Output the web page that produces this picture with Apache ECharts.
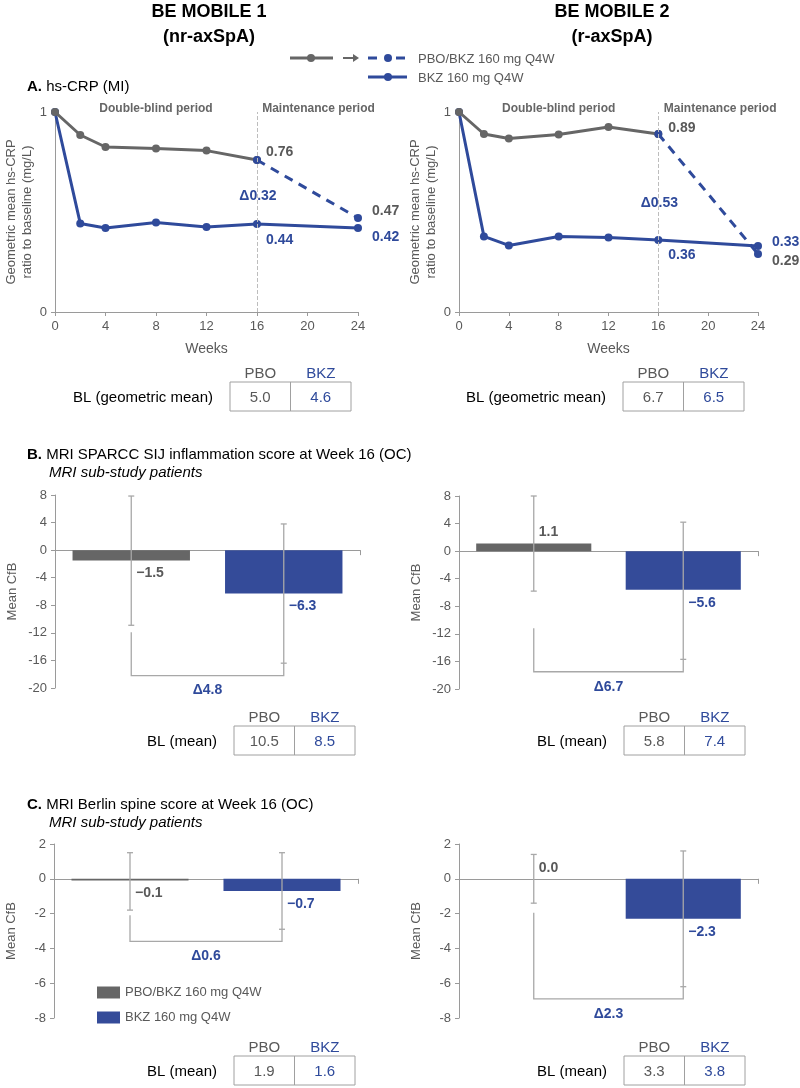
<!DOCTYPE html>
<html>
<head>
<meta charset="utf-8">
<script src="https://cdn.jsdelivr.net/npm/echarts@6/dist/echarts.min.js"></script>
<style>
  html, body { margin: 0; padding: 0; background: #fff; }
  #main { width: 800px; height: 1088px; }
</style>
</head>
<body>
<div id="main"></div>
<script>
// ---- data ----
var groups = ['PBO/BKZ 160 mg Q4W', 'BKZ 160 mg Q4W'];

// A. hs-CRP ratio to baseline
var weeksPbo = [0, 2, 4, 8, 12, 16];
var weeksBkz = [0, 2, 4, 8, 12, 16, 24];
var weeksSwitch = [16, 24];
var crpPbo1 = [1, 0.885, 0.825, 0.817, 0.807, 0.76];
var crpSwitch1 = [0.76, 0.47];
var crpBkz1 = [1, 0.443, 0.42, 0.447, 0.425, 0.44, 0.42];
var crpPbo2 = [1, 0.89, 0.868, 0.887, 0.925, 0.89];
var crpSwitch2 = [0.89, 0.29];
var crpBkz2 = [1, 0.378, 0.333, 0.378, 0.373, 0.36, 0.33];
var crpDelta = [0.32, 0.53];

// B. MRI SPARCC SIJ (mean, lower, upper)
var sparcc1 = [-1.5, -6.3], sparccLo1 = [-10.9, -16.4], sparccHi1 = [7.85, 3.8];
var sparcc2 = [1.1, -5.6], sparccLo2 = [-5.8, -15.7], sparccHi2 = [8.0, 4.2];
var sparccBracket1 = [-18.2, -11.9], sparccBracket2 = [-17.5, -11.2]; // [level, left start]
var sparccDelta = [4.8, 6.7];

// C. MRI Berlin spine
var berlin1 = [-0.1, -0.7], berlinLo1 = [-1.8, -2.9], berlinHi1 = [1.5, 1.5];
var berlin2 = [0.0, -2.3], berlinLo2 = [-1.4, -6.2], berlinHi2 = [1.4, 1.6];
var berlinBracket1 = [-3.6, -2.1], berlinBracket2 = [-6.9, -1.95];
var berlinDelta = [0.6, 2.3];

// baseline tables [PBO, BKZ]
var blCrp1 = [5.0, 4.6], blCrp2 = [6.7, 6.5];
var blSparcc1 = [10.5, 8.5], blSparcc2 = [5.8, 7.4];
var blBerlin1 = [1.9, 1.6], blBerlin2 = [3.3, 3.8];

// ---- style ----
var FONT = '"Liberation Sans", Arial, sans-serif';
var GRAY = '#666666';
var GRAY_TXT = '#595959';
var BLUE = '#2f4a9b';
var BAR_BLUE = '#344b99';
var AXIS = '#9a9a9a';
var ERR = '#a8a8a8';

var chart = echarts.init(document.getElementById('main'));

function fmt(v) {
  return (v < 0 ? '\u2212' : '') + Math.abs(v).toFixed(1);
}

function ptLabel(text, color, pos, offset) {
  return {show: true, formatter: text, color: color, position: pos, offset: offset,
          fontWeight: 'bold', fontSize: 14, fontFamily: FONT, distance: 5};
}

function pairs(xs, ys, labels) {
  return xs.map(function (x, i) {
    if (labels && labels[i]) return {value: [x, ys[i]], label: labels[i]};
    return [x, ys[i]];
  });
}

// ---- grids ----
var grids = [
  {left: 55, top: 112, width: 303, height: 200},
  {left: 459, top: 112, width: 299, height: 200},
  {left: 55, top: 495, width: 305, height: 193},
  {left: 459, top: 496, width: 299, height: 193},
  {left: 54, top: 844, width: 304, height: 174},
  {left: 459, top: 844, width: 299, height: 174}
];

var axisLine = {lineStyle: {color: AXIS, width: 1}};
var axisLabel = {color: GRAY_TXT, fontSize: 13, fontFamily: FONT};

var xAxes = [], yAxes = [];
[0, 1].forEach(function (g) {
  xAxes.push({gridIndex: g, type: 'value', min: 0, max: 24, interval: 4,
    name: 'Weeks', nameLocation: 'middle', nameGap: 30,
    nameTextStyle: {color: GRAY_TXT, fontSize: 14, fontFamily: FONT},
    axisLine: axisLine, axisTick: {show: true, length: 4, lineStyle: {color: AXIS}},
    axisLabel: axisLabel, splitLine: {show: false}});
  yAxes.push({gridIndex: g, type: 'value', min: 0, max: 1, interval: 1,
    name: 'Geometric mean hs-CRP\nratio to baseline (mg/L)', nameLocation: 'middle', nameGap: 20,
    nameTextStyle: {color: GRAY_TXT, fontSize: 13, fontFamily: FONT, lineHeight: 16},
    axisLine: {show: true, lineStyle: {color: AXIS}}, axisTick: {show: true, length: 4, lineStyle: {color: AXIS}},
    axisLabel: axisLabel, splitLine: {show: false}});
});
[2, 3, 4, 5].forEach(function (g) {
  var isB = g < 4;
  xAxes.push({gridIndex: g, type: 'category', data: groups,
    axisLine: {onZero: true, lineStyle: {color: AXIS, width: 1.2}},
    axisTick: {show: true, length: 5, lineStyle: {color: AXIS}},
    axisLabel: {show: false}});
  yAxes.push({gridIndex: g, type: 'value', min: isB ? -20 : -8, max: isB ? 8 : 2, interval: isB ? 4 : 2,
    name: 'Mean CfB', nameLocation: 'middle', nameGap: 36,
    nameTextStyle: {color: GRAY_TXT, fontSize: 13, fontFamily: FONT},
    axisLine: {show: true, lineStyle: {color: AXIS}}, axisTick: {show: true, length: 4, lineStyle: {color: AXIS}},
    axisLabel: axisLabel, splitLine: {show: false}});
});

// ---- series ----
var series = [];

function crpSeries(g, pbo, sw, bkz, delta, lab) {
  var lineBase = {type: 'line', xAxisIndex: g, yAxisIndex: g, symbol: 'circle', symbolSize: 8, animation: false};
  series.push(Object.assign({}, lineBase, {
    name: 'BKZ line ' + g, z: 2,
    lineStyle: {color: BLUE, width: 3}, itemStyle: {color: BLUE},
    data: pairs(weeksBkz, bkz, {5: ptLabel(bkz[5].toFixed(2), BLUE, 'right', lab.b16),
                                6: ptLabel(bkz[6].toFixed(2), BLUE, 'right', lab.b24)})
  }));
  series.push(Object.assign({}, lineBase, {
    name: 'PBO line ' + g, z: 3,
    lineStyle: {color: GRAY, width: 3}, itemStyle: {color: GRAY},
    data: pairs(weeksPbo, pbo, {5: ptLabel('\u0394' + delta.toFixed(2), BLUE, 'inside', lab.d)}),
    markLine: {silent: true, symbol: 'none', label: {show: false},
      lineStyle: {color: '#bdbdbd', type: 'dashed', width: 1}, data: [{xAxis: 16}]},
    markArea: {silent: true, itemStyle: {color: 'rgba(0,0,0,0)'},
      label: {position: 'top', distance: -3, color: GRAY, fontWeight: 'bold', fontSize: 12, fontFamily: FONT},
      data: [[{name: 'Double-blind period', xAxis: 0}, {xAxis: 16}],
             [{name: 'Maintenance period', xAxis: 16, label: {offset: [lab.m, 0]}}, {xAxis: 24}]]}
  }));
  series.push(Object.assign({}, lineBase, {
    name: 'Switch line ' + g, z: 4,
    lineStyle: {color: BLUE, width: 3, type: [9, 7]}, itemStyle: {color: BLUE},
    data: pairs(weeksSwitch, sw, {0: ptLabel(sw[0].toFixed(2), GRAY_TXT, 'right', lab.s16),
                                  1: ptLabel(sw[1].toFixed(2), GRAY_TXT, 'right', lab.s24)})
  }));
}
crpSeries(0, crpPbo1, crpSwitch1, crpBkz1, crpDelta[0],
  {b16: [0, 16], b24: [5, 9], d: [1, 36], s16: [0, -8], s24: [5, -7], m: 11});
crpSeries(1, crpPbo2, crpSwitch2, crpBkz2, crpDelta[1],
  {b16: [1, 15], b24: [5, -4], d: [1, 69], s16: [1, -6], s24: [5, 7], m: 12});

function renderErr(params, api) {
  var c = api.value(0);
  var v = api.value(1);
  var x = api.coord([c, 0])[0];
  var yHi = api.coord([c, api.value(3)])[1];
  var yLo = api.coord([c, api.value(2)])[1];
  var yV = api.coord([c, v])[1];
  var st = {stroke: ERR, lineWidth: 1.3};
  return {type: 'group', children: [
    {type: 'line', shape: {x1: x, y1: yHi, x2: x, y2: yLo}, style: st},
    {type: 'line', shape: {x1: x - 3, y1: yHi, x2: x + 3, y2: yHi}, style: st},
    {type: 'line', shape: {x1: x - 3, y1: yLo, x2: x + 3, y2: yLo}, style: st},
    {type: 'text', x: x + 5, y: v < 0 ? yV + 13 : yV - 11,
     style: {text: fmt(v), fill: params.dataIndex === 0 ? GRAY_TXT : BLUE,
             font: 'bold 14px ' + FONT, align: 'left', verticalAlign: 'middle'}}
  ]};
}

function renderBracket(params, api) {
  var x0 = api.coord([0, 0])[0];
  var x1 = api.coord([1, 0])[0];
  var yL = api.coord([0, api.value(1)])[1];
  var yS = api.coord([0, api.value(2)])[1];
  var yE = api.coord([1, api.value(3)])[1];
  return {type: 'group', children: [
    {type: 'polyline', shape: {points: [[x0, yS], [x0, yL], [x1, yL], [x1, yE]]},
     style: {stroke: ERR, lineWidth: 1.3, fill: null}},
    {type: 'text', x: (x0 + x1) / 2, y: yL + 15,
     style: {text: '\u0394' + api.value(4).toFixed(1), fill: BLUE,
             font: 'bold 14px ' + FONT, align: 'center', verticalAlign: 'middle'}}
  ]};
}

function barPanel(g, vals, lo, hi, bracket, delta) {
  series.push({type: 'bar', name: groups[0], xAxisIndex: g, yAxisIndex: g, stack: 's' + g,
    barWidth: '77%', itemStyle: {color: GRAY}, animation: false, data: [vals[0], '-']});
  series.push({type: 'bar', name: groups[1], xAxisIndex: g, yAxisIndex: g, stack: 's' + g,
    barWidth: '77%', itemStyle: {color: BAR_BLUE}, animation: false, data: ['-', vals[1]]});
  series.push({type: 'custom', xAxisIndex: g, yAxisIndex: g, z: 5, animation: false,
    renderItem: renderErr, encode: {x: 0, y: 1},
    data: [[0, vals[0], lo[0], hi[0]], [1, vals[1], lo[1], hi[1]]]});
  series.push({type: 'custom', xAxisIndex: g, yAxisIndex: g, z: 5, animation: false,
    renderItem: renderBracket, encode: {x: 0, y: 1},
    data: [[0, bracket[0], bracket[1], lo[1], delta]]});
}
barPanel(2, sparcc1, sparccLo1, sparccHi1, sparccBracket1, sparccDelta[0]);
barPanel(3, sparcc2, sparccLo2, sparccHi2, sparccBracket2, sparccDelta[1]);
barPanel(4, berlin1, berlinLo1, berlinHi1, berlinBracket1, berlinDelta[0]);
barPanel(5, berlin2, berlinLo2, berlinHi2, berlinBracket2, berlinDelta[1]);

// ---- text, header legend and baseline tables ----
var graphic = [];
function txt(x, y, text, font, fill, align, rich) {
  graphic.push({type: 'text', x: x, y: y, silent: true,
    style: {text: text, font: font, fill: fill || '#000', align: align || 'left', verticalAlign: 'middle', rich: rich}});
}
var H = 'bold 18px ' + FONT;
txt(209, 12, 'BE MOBILE 1', H, '#000', 'center');
txt(209, 37, '(nr-axSpA)', H, '#000', 'center');
txt(612, 12, 'BE MOBILE 2', H, '#000', 'center');
txt(612, 37, '(r-axSpA)', H, '#000', 'center');

var titleRich = {b: {fontWeight: 'bold', fontSize: 15, fontFamily: FONT, fill: '#000'},
                 n: {fontSize: 15, fontFamily: FONT, fill: '#000'}};
txt(27, 87, '{b|A.} {n|hs-CRP (MI)}', '15px ' + FONT, '#000', 'left', titleRich);
txt(27, 455, '{b|B.} {n|MRI SPARCC SIJ inflammation score at Week 16 (OC)}', '15px ' + FONT, '#000', 'left', titleRich);
txt(49, 473, 'MRI sub-study patients', 'italic 15px ' + FONT, '#000');
txt(27, 805, '{b|C.} {n|MRI Berlin spine score at Week 16 (OC)}', '15px ' + FONT, '#000', 'left', titleRich);
txt(49, 823, 'MRI sub-study patients', 'italic 15px ' + FONT, '#000');

// header legend for panel A
function seg(x1, y1, x2, y2, color) {
  graphic.push({type: 'line', silent: true, shape: {x1: x1, y1: y1, x2: x2, y2: y2},
    style: {stroke: color, lineWidth: 3}});
}
function dot(x, y, color) {
  graphic.push({type: 'circle', silent: true, shape: {cx: x, cy: y, r: 4}, style: {fill: color}});
}
seg(290, 58, 333, 58, GRAY); dot(311, 58, GRAY);
graphic.push({type: 'line', silent: true, shape: {x1: 343, y1: 58, x2: 354, y2: 58}, style: {stroke: GRAY, lineWidth: 2}});
graphic.push({type: 'polygon', silent: true, shape: {points: [[353, 54], [359, 58], [353, 62]]}, style: {fill: GRAY}});
seg(368, 58, 377, 58, BLUE); dot(388, 58, BLUE); seg(396, 58, 405, 58, BLUE);
seg(368, 77, 407, 77, BLUE); dot(388, 77, BLUE);
txt(418, 59, groups[0], '13px ' + FONT, GRAY_TXT);
txt(418, 78, groups[1], '13px ' + FONT, GRAY_TXT);

function table(boxX, boxY, label, vals) {
  var w = 121, h = 29, half = w / 2;
  graphic.push({type: 'rect', silent: true, shape: {x: boxX, y: boxY, width: w, height: h},
    style: {fill: null, stroke: '#a0a0a0', lineWidth: 1}});
  graphic.push({type: 'line', silent: true, shape: {x1: boxX + half, y1: boxY, x2: boxX + half, y2: boxY + h},
    style: {stroke: '#a0a0a0', lineWidth: 1}});
  txt(boxX + half / 2, boxY - 8, 'PBO', '15px ' + FONT, GRAY_TXT, 'center');
  txt(boxX + half * 1.5, boxY - 8, 'BKZ', '15px ' + FONT, BLUE, 'center');
  txt(boxX + half / 2, boxY + h / 2 + 1, vals[0].toFixed(1), '15px ' + FONT, GRAY_TXT, 'center');
  txt(boxX + half * 1.5, boxY + h / 2 + 1, vals[1].toFixed(1), '15px ' + FONT, BLUE, 'center');
  txt(boxX - 17, boxY + h / 2 + 1, label, '15px ' + FONT, '#000', 'right');
}
table(230, 382, 'BL (geometric mean)', blCrp1);
table(623, 382, 'BL (geometric mean)', blCrp2);
table(234, 726, 'BL (mean)', blSparcc1);
table(624, 726, 'BL (mean)', blSparcc2);
table(234, 1056, 'BL (mean)', blBerlin1);
table(624, 1056, 'BL (mean)', blBerlin2);

var option = {
  animation: false,
  textStyle: {fontFamily: FONT},
  grid: grids,
  xAxis: xAxes,
  yAxis: yAxes,
  legend: {
    data: groups, orient: 'vertical', left: 92, top: 981,
    icon: 'rect', itemWidth: 23, itemHeight: 12, itemGap: 12,
    selectedMode: false,
    textStyle: {color: GRAY_TXT, fontSize: 13, fontFamily: FONT}
  },
  series: series,
  graphic: graphic
};
chart.setOption(option);
</script>
</body>
</html>
